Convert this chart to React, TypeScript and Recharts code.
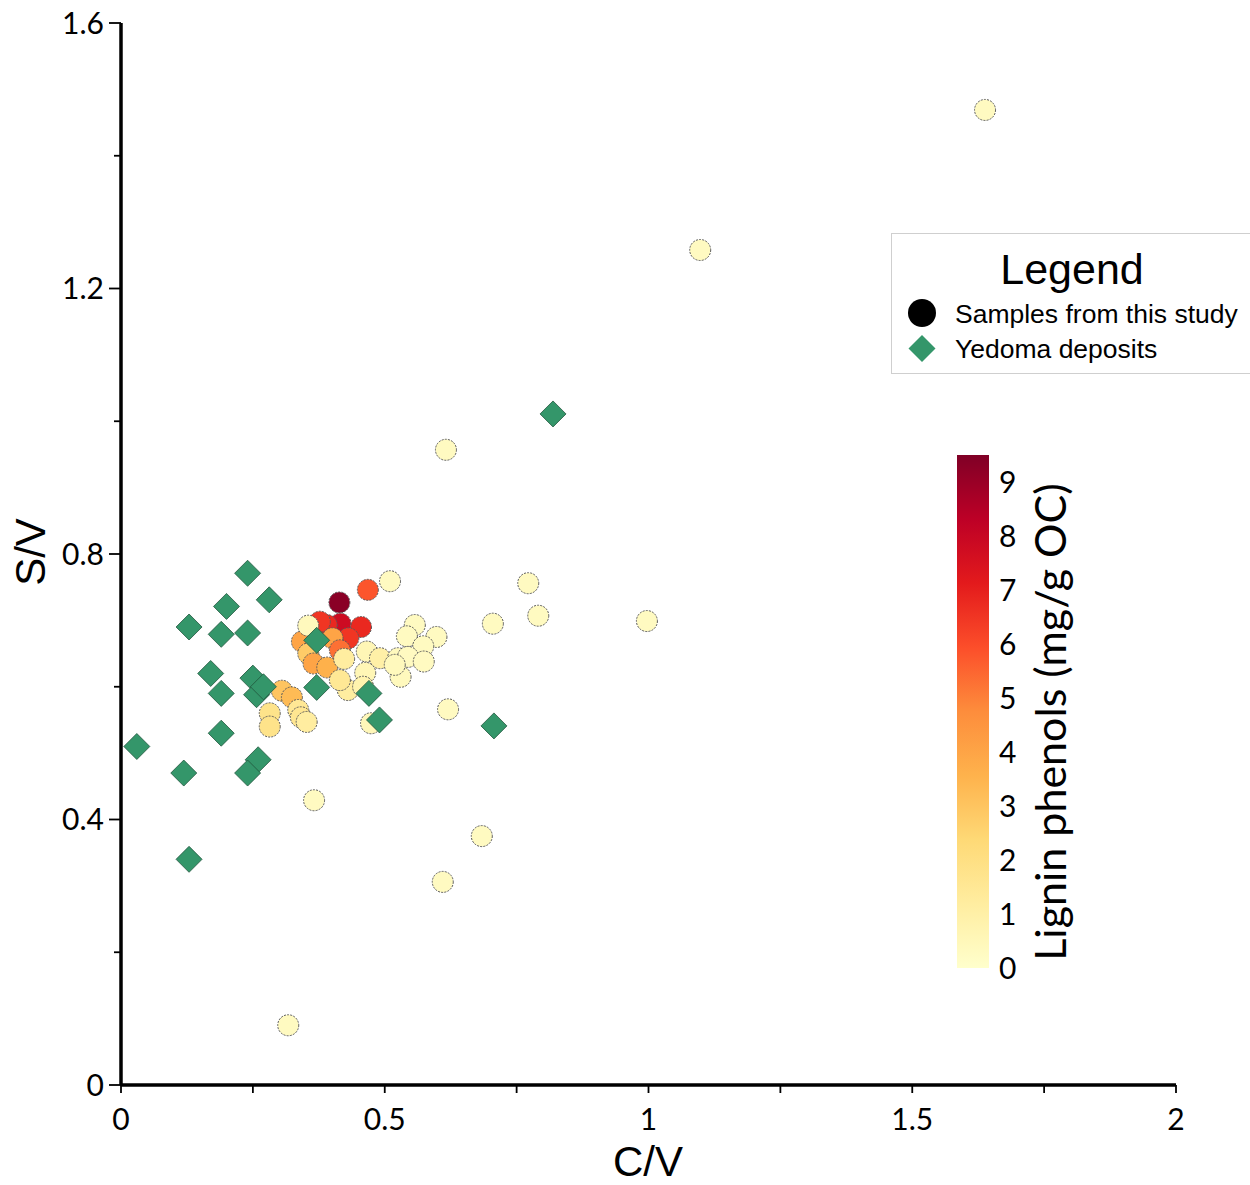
import React from "react";
import { Scatter, ScatterChart, XAxis, YAxis } from "recharts";

// Samples from this study: C/V, S/V and lignin phenols (mg/g OC)
const SAMPLE_CV = [
  0.414, 0.468, 0.455, 0.416, 0.39, 0.431, 0.377,
  0.343, 0.355, 0.365, 0.391, 0.401, 0.415, 0.305, 0.324,
  0.282, 0.282, 0.336, 0.341, 0.352,
  0.466, 0.491, 0.463, 0.43, 0.459, 0.415, 0.423, 0.474, 0.355,
  0.557, 0.542, 0.598, 0.573, 0.525, 0.544, 0.574, 0.53, 0.519,
  1.638, 1.098, 0.616, 0.997, 0.772, 0.791, 0.705, 0.62, 0.366, 0.684, 0.61, 0.317, 0.51,
];
const SAMPLE_SV = [
  0.727, 0.746, 0.69, 0.695, 0.693, 0.673, 0.698,
  0.668, 0.65, 0.635, 0.629, 0.673, 0.655, 0.594, 0.584,
  0.56, 0.54, 0.565, 0.554, 0.547,
  0.653, 0.643, 0.621, 0.595, 0.6, 0.61, 0.642, 0.545, 0.692,
  0.693, 0.676, 0.675, 0.661, 0.643, 0.645, 0.638, 0.615, 0.633,
  1.469, 1.258, 0.957, 0.699, 0.756, 0.707, 0.695, 0.566, 0.429, 0.375, 0.306, 0.09, 0.759,
];
const SAMPLE_LIGNIN = [
  9.3, 5.8, 6.8, 7.8, 6.8, 6.5, 6.5,
  4, 2.8, 4, 3.6, 4, 5.3, 3, 3.3,
  1.8, 1.8, 1.5, 1.6, 1.2,
  0.6, 1, 0.6, 1.2, 0.8, 1.5, 1.2, 0.5, 0.4,
  0.3, 0.3, 0.3, 0.3, 0.4, 0.3, 0.3, 0.4, 0.4,
  0.3, 0.3, 0.3, 0.3, 0.3, 0.3, 0.3, 0.3, 0.3, 0.3, 0.3, 0.3, 0.3,
];

// Yedoma deposits: C/V and S/V
const YEDOMA_CV = [
  0.03, 0.119, 0.129, 0.129, 0.19, 0.2, 0.24, 0.281, 0.24, 0.17, 0.19, 0.19,
  0.26, 0.24, 0.25, 0.257, 0.27, 0.371, 0.371, 0.47, 0.49, 0.707, 0.819,
];
const YEDOMA_SV = [
  0.51, 0.47, 0.34, 0.69, 0.679, 0.721, 0.771, 0.731, 0.681, 0.62, 0.59, 0.53,
  0.49, 0.47, 0.613, 0.588, 0.6, 0.67, 0.599, 0.59, 0.55, 0.541, 1.011,
];

const X_TICKS = [0, 0.25, 0.5, 0.75, 1, 1.25, 1.5, 1.75, 2];
const X_LABELED = [0, 0.5, 1, 1.5, 2];
const Y_TICKS = [0, 0.2, 0.4, 0.6, 0.8, 1, 1.2, 1.4, 1.6];
const Y_LABELED = [0, 0.4, 0.8, 1.2, 1.6];
const COLORBAR_TICKS = [0, 1, 2, 3, 4, 5, 6, 7, 8, 9];
const LIGNIN_MAX = 9.5;
const YLORRD = ["#ffffcc", "#ffeda0", "#fed976", "#feb24c", "#fd8d3c", "#fc4e2a", "#e31a1c", "#bd0026", "#800026"];

const samples = SAMPLE_CV.map((cv, i) => ({ cv, sv: SAMPLE_SV[i], lignin: SAMPLE_LIGNIN[i] }));
const yedoma = YEDOMA_CV.map((cv, i) => ({ cv, sv: YEDOMA_SV[i] }));

const TICK_FONT = "Lato, 'DejaVu Sans', sans-serif";
const ARIAL = "'Liberation Sans', Arial, sans-serif";
const GREEN = "#34966a";

function hexToRgb(h: string) {
  return [1, 3, 5].map((k) => parseInt(h.slice(k, k + 2), 16));
}

function ligninColor(v: number) {
  const t = Math.min(Math.max(v / LIGNIN_MAX, 0), 1) * (YLORRD.length - 1);
  const i = Math.min(Math.floor(t), YLORRD.length - 2);
  const f = t - i;
  const a = hexToRgb(YLORRD[i]);
  const b = hexToRgb(YLORRD[i + 1]);
  const c = a.map((av, k) => Math.round(av + (b[k] - av) * f));
  return `rgb(${c[0]},${c[1]},${c[2]})`;
}

const isLabeled = (v: number, list: number[]) => list.some((m) => Math.abs(m - v) < 1e-6);

const YTick = (props: any) => {
  const { x, y, payload } = props;
  const major = isLabeled(payload.value, Y_LABELED);
  return (
    <g>
      <line x1={x - (major ? 12 : 7)} x2={x} y1={y} y2={y} stroke="#000" strokeWidth={1.8} />
      {major && (
        <text x={x - 17} y={y} dy="0.36em" textAnchor="end" fontFamily={TICK_FONT} fontSize={30} fill="#000">
          {String(payload.value)}
        </text>
      )}
    </g>
  );
};

const XTick = (props: any) => {
  const { x, y, payload } = props;
  const major = isLabeled(payload.value, X_LABELED);
  return (
    <g>
      <line x1={x} x2={x} y1={y} y2={y + 8} stroke="#000" strokeWidth={1.8} />
      {major && (
        <text x={x} y={y + 45} textAnchor="middle" fontFamily={TICK_FONT} fontSize={30} fill="#000">
          {String(payload.value)}
        </text>
      )}
    </g>
  );
};

const SampleDot = (props: any) => {
  const { cx, cy, payload } = props;
  if (cx == null || cy == null) return <g />;
  return (
    <circle
      cx={cx}
      cy={cy}
      r={10.5}
      fill={ligninColor(payload.lignin)}
      stroke="#5a5a5a"
      strokeWidth={1}
      strokeDasharray="2 1.2"
    />
  );
};

const Diamond = (props: any) => {
  const { cx, cy } = props;
  if (cx == null || cy == null) return <g />;
  const s = 13;
  return (
    <polygon
      points={`${cx},${cy - s} ${cx + s},${cy} ${cx},${cy + s} ${cx - s},${cy}`}
      fill={GREEN}
      stroke="#22573d"
      strokeWidth={0.8}
    />
  );
};

function Overlay() {
  const barTop = 455;
  const barBottom = 968;
  const perUnit = (barBottom - barTop) / LIGNIN_MAX;
  return (
    <svg width={1250} height={1185} style={{ position: "absolute", left: 0, top: 0, pointerEvents: "none" }}>
      <defs>
        <linearGradient id="ylorrd" x1="0" y1="1" x2="0" y2="0">
          {YLORRD.map((c, i) => (
            <stop key={c} offset={i / (YLORRD.length - 1)} stopColor={c} />
          ))}
        </linearGradient>
      </defs>

      {/* axis titles */}
      <text x={648} y={1176} textAnchor="middle" fontFamily={ARIAL} fontSize={42} fill="#000">C/V</text>
      <text transform="translate(45,552) rotate(-90)" textAnchor="middle" fontFamily={ARIAL} fontSize={42} fill="#000">S/V</text>

      {/* legend box */}
      <rect x={891.5} y={233.5} width={370} height={140} fill="#fff" stroke="#cfcfcf" strokeWidth={1} />
      <text x={1072} y={284} textAnchor="middle" fontFamily={ARIAL} fontSize={43} fill="#000">Legend</text>
      <circle cx={922} cy={313} r={14} fill="#000" />
      <text x={955} y={323} fontFamily={ARIAL} fontSize={26.5} fill="#000">Samples from this study</text>
      <polygon points="922,335 935.5,348.5 922,362 908.5,348.5" fill={GREEN} />
      <text x={955} y={358} fontFamily={ARIAL} fontSize={26.5} fill="#000">Yedoma deposits</text>

      {/* colour bar */}
      <rect x={957} y={barTop} width={32} height={barBottom - barTop} fill="url(#ylorrd)" />
      {COLORBAR_TICKS.map((v) => (
        <text key={v} x={999} y={barBottom - v * perUnit} dy="0.36em" fontFamily={TICK_FONT} fontSize={30} fill="#000">
          {v}
        </text>
      ))}
      <text transform="translate(1066,722) rotate(-90)" textAnchor="middle" fontFamily={TICK_FONT} fontSize={43} fill="#000">
        Lignin phenols (mg/g OC)
      </text>
    </svg>
  );
}

export default function App() {
  return (
    <div style={{ position: "absolute", left: 0, top: 0, width: 1250, height: 1185, background: "#fff" }}>
      <ScatterChart width={1250} height={1185} margin={{ top: 23, right: 74, bottom: 0, left: 0 }}>
        <XAxis
          type="number"
          dataKey="cv"
          domain={[0, 2]}
          ticks={X_TICKS}
          interval={0}
          height={100}
          tickSize={0}
          tickMargin={0}
          tickLine={false}
          tick={<XTick />}
          axisLine={{ stroke: "#000", strokeWidth: 3.5 }}
        />
        <YAxis
          type="number"
          dataKey="sv"
          domain={[0, 1.6]}
          ticks={Y_TICKS}
          interval={0}
          width={121}
          tickSize={0}
          tickMargin={0}
          tickLine={false}
          tick={<YTick />}
          axisLine={{ stroke: "#000", strokeWidth: 3.5 }}
        />
        <Scatter name="Samples from this study" data={samples} shape={<SampleDot />} isAnimationActive={false} />
        <Scatter name="Yedoma deposits" data={yedoma} shape={<Diamond />} isAnimationActive={false} />
      </ScatterChart>
      <Overlay />
    </div>
  );
}
